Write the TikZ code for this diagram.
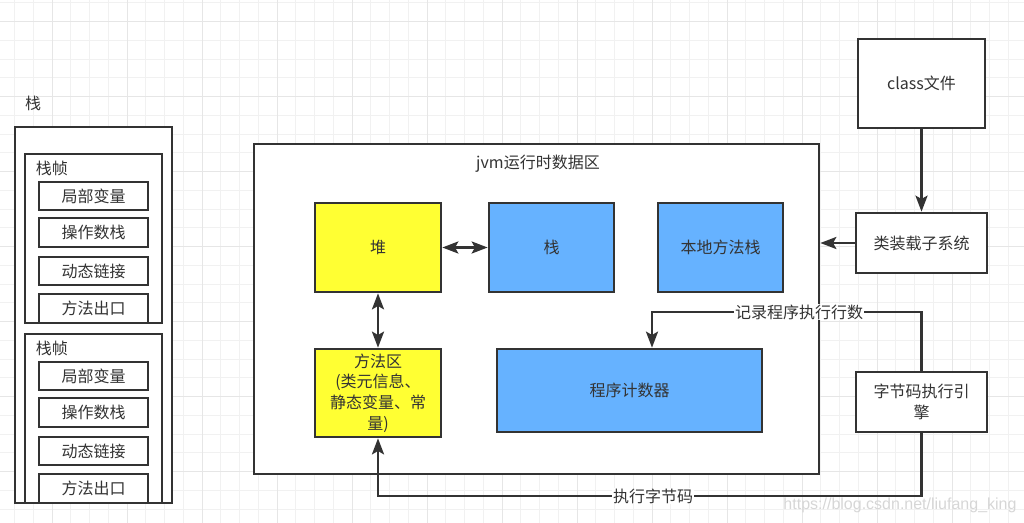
\documentclass[tikz,border=0pt]{standalone}
\usepackage{fontspec}
\newfontfamily\cjk{Noto Sans CJK SC}
\newfontfamily\wmfont{Liberation Sans}
\usetikzlibrary{arrows.meta}

\definecolor{ink}{HTML}{333333}
\definecolor{heapyellow}{HTML}{FFFF33}
\definecolor{stackblue}{HTML}{66B2FF}
\definecolor{gridminor}{HTML}{F1F1F1}
\definecolor{gridmajor}{HTML}{E6E6E6}

\tikzset{every picture/.style={line width=0.75pt}}
\tikzset{
  txt/.style={font=\cjk\fontsize{12pt}{15.5pt}\selectfont, text=ink},
  box/.style 2 args={txt, draw=ink, line width=2pt, fill=white, inner sep=0pt,
    minimum width=#1*0.75pt, minimum height=#2*0.75pt, align=center},
  lbl/.style={txt, inner sep=0.5pt},
  onlink/.style={lbl, fill=white},
  tip/.tip={Stealth[length=12pt,width=9pt,inset=2.5pt]},
  link/.style={draw=ink, line width=2pt, -tip},
  twoway/.style={draw=ink, line width=2pt, tip-tip},
}

\begin{document}
\begin{tikzpicture}[x=0.75pt,y=0.75pt,yscale=-1,xscale=1]
\useasboundingbox (0,0) rectangle (1024,523);

%Grid
\foreach \i in {0,...,54} \draw[gridminor] ({14.5+18.75*\i},0) -- ({14.5+18.75*\i},523);
\foreach \j in {0,...,27} \draw[gridminor] (0,{3+18.75*\j}) -- (1024,{3+18.75*\j});
\foreach \i in {0,...,13} \draw[gridmajor] ({52+75*\i},0) -- ({52+75*\i},523);
\foreach \j in {0,...,6} \draw[gridmajor] (0,{22+75*\j}) -- (1024,{22+75*\j});

% Stack column
\node[lbl] (stacklbl) at (33,103) {栈};
\node[box={157}{376}] (stackouter) at (93.5,315) {};
\node[box={137}{169}] (frameA) at (93.5,238.5) {};
\node[box={137}{169}] (frameB) at (93.5,418.5) {};
\node[lbl] (frameAlbl) at (52,168) {栈帧};
\node[lbl] (frameBlbl) at (52,348) {栈帧};
\foreach \f/\dy in {A/0,B/180} {
  \node[box={109}{28}] (local\f) at (93.5,196+\dy) {局部变量};
  \node[box={109}{29}] (operand\f) at (93.5,232.5+\dy) {操作数栈};
  \node[box={109}{28}] (dynlink\f) at (93.5,271+\dy) {动态链接};
  \node[box={109}{29}] (exit\f) at (93.5,308.5+\dy) {方法出口};
}

% Runtime data area
\node[box={565}{330}] (jvm) at (536.5,309) {};
\node[lbl] (jvmlbl) at (538,164) {jvm运行时数据区};
\node[box={126}{89}, fill=heapyellow] (heap) at (378,247.5) {堆};
\node[box={125}{89}, fill=stackblue] (stk) at (551.5,247.5) {栈};
\node[box={125}{89}, fill=stackblue] (native) at (720.5,247.5) {本地方法栈};
\node[box={126}{88}, fill=heapyellow] (methodarea) at (378,393) {方法区\\(类元信息、\\静态变量、常\\量)};
\node[box={265}{83}, fill=stackblue] (pc) at (629.5,390.5) {程序计数器};

% Right column
\node[box={127}{89}] (classfile) at (921.5,83.5) {class文件};
\node[box={131}{60}] (loader) at (921.5,243) {类装载子系统};
\node[box={131}{60}] (engine) at (921.5,402) {字节码执行引\\擎};

%Connectors
\draw[link] (classfile) -- (loader);
\draw[link] (loader.west) -- (loader.west -| jvm.east);
\draw[twoway] (heap) -- (stk);
\draw[twoway] (heap) -- (methodarea);

\coordinate (recturn) at (652,312);
\draw[link] (engine.north) |- (recturn) -- (recturn |- pc.north);
\node[onlink] (reclbl) at (799,312) {记录程序执行行数};

\coordinate (exeturn) at (378,496);
\draw[link] (engine.south) |- (exeturn) -- (methodarea.south);
\node[onlink] (exelbl) at (653,496) {执行字节码};

% Watermark
\node[font=\wmfont\fontsize{12pt}{14pt}\selectfont, text=black!16, inner sep=0pt] (wm) at (900,505) {https://blog.csdn.net/liufang\_king};

\end{tikzpicture}
\end{document}
